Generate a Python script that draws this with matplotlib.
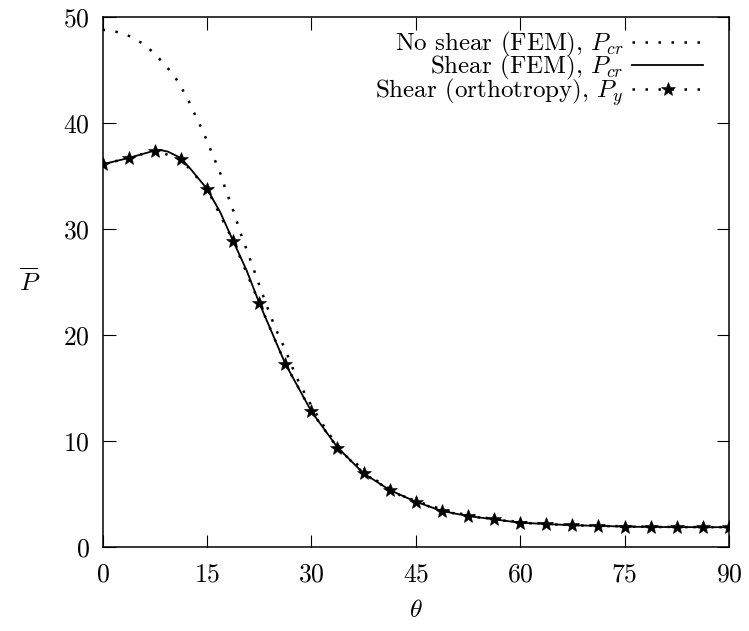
import matplotlib
matplotlib.use('Agg')
import matplotlib.pyplot as plt

plt.rcParams['font.family'] = ['cmr10', 'DejaVu Sans']
plt.rcParams['mathtext.fontset'] = 'cm'
plt.rcParams['axes.formatter.use_mathtext'] = True
plt.rcParams['axes.unicode_minus'] = False

# ── Data ────────────────────────────────────────────────────────────────────
theta_noshear = [0, 2.0, 3.85, 5.5, 7.07, 8.4, 9.6, 10.75, 11.7, 12.6, 13.4,
                 14.15, 14.9, 15.7, 16.9, 17.7, 18.8, 19.6, 20.1, 20.8, 21.5,
                 22.15, 22.8, 23.8, 24.8, 26.2, 27.8, 29.6, 31.4, 32.5, 33.7,
                 35.1, 36.4, 39.3, 42.7, 45, 50, 55, 60, 65, 70, 75, 80, 85, 90]
p_noshear = [48.8, 48.6, 48.2, 47.6, 46.8, 45.9, 45.0, 44.0, 42.9, 41.8, 40.6,
             39.6, 38.5, 37.2, 35.3, 33.7, 31.7, 30.1, 29.1, 27.9, 26.6,
             25.4, 24.2, 22.4, 20.7, 18.7, 16.1, 13.8, 11.8, 10.7, 9.7,
             8.5, 7.9, 6.3, 4.9, 4.35, 3.3, 2.75, 2.35, 2.15, 2.03, 1.95, 1.9, 1.88, 1.87]

theta_fem = [0, 3.75, 7.5, 8.3, 9.4, 11.25, 12.6, 15, 16.9, 18.75, 20.7, 22.5,
             26.25, 30, 33.75, 37.5, 41.25, 45, 48.75, 52.5, 56.25, 60, 63.75,
             67.5, 71.25, 75, 78.75, 82.5, 86.25, 90]
p_fem = [36.1, 36.7, 37.4, 37.45, 37.3, 36.7, 35.7, 33.8, 31.6, 28.9, 26.1, 23.05,
         17.3, 12.8, 9.4, 6.95, 5.38, 4.27, 3.4, 2.92, 2.61, 2.29, 2.17,
         2.05, 2.0, 1.92, 1.89, 1.88, 1.87, 1.87]

theta_orth = [0, 3.75, 7.5, 11.25, 15, 18.75, 22.5, 26.25, 30, 33.75, 37.5,
              41.25, 45, 48.75, 52.5, 56.25, 60, 63.75, 67.5, 71.25, 75, 78.75,
              82.5, 86.25, 90]
p_orth = [36.1, 36.7, 37.4, 36.6, 33.8, 28.9, 23.05, 17.3, 12.8, 9.37, 6.95,
          5.38, 4.27, 3.4, 2.92, 2.61, 2.29, 2.17, 2.05, 2.0, 1.92, 1.89,
          1.88, 1.87, 1.87]

x_ticks = [0, 15, 30, 45, 60, 75, 90]
y_ticks = [0, 10, 20, 30, 40, 50]

FS = 18.5
LEG_FS = 18
DOTS = (0, (1, 4.2))

fig = plt.figure(figsize=(7.49, 6.31), dpi=100)
ax = fig.add_axes([102.5 / 749, 1 - 547 / 631, 626.5 / 749, 530 / 631])

ax.plot(theta_noshear, p_noshear, color='black', linewidth=1.8, linestyle=DOTS,
        label=r'No shear (FEM), $P_{cr}$')
ax.plot(theta_fem, p_fem, color='black', linewidth=1.3, linestyle='-',
        label=r'Shear (FEM), $P_{cr}$')
ax.plot(theta_orth, p_orth, color='black', linewidth=1.8, linestyle=DOTS,
        marker='*', markersize=10.5, markeredgewidth=0.4,
        label=r'Shear (orthotropy), $P_y$')

ax.set_xlim(0, 90)
ax.set_ylim(0, 50)
ax.set_xticks(x_ticks)
ax.set_yticks(y_ticks)
ax.tick_params(direction='in', length=9, width=0.8, top=True, right=True,
               labelsize=FS, colors='black')
ax.tick_params(axis='x', pad=11)
ax.tick_params(axis='y', pad=9)
for s in ax.spines.values():
    s.set_linewidth(1.1)

ax.set_xlabel(r'$\theta$', fontsize=FS, labelpad=9)
ax.set_ylabel(r'$\overline{P}$', fontsize=FS, rotation=0, labelpad=24, va='center')

ax.legend(loc='upper right', bbox_to_anchor=(0.9585, 0.975), borderaxespad=0,
          borderpad=0, frameon=False, markerfirst=False, fontsize=LEG_FS,
          handlelength=2.83, handletextpad=0.35, labelspacing=-0.24)

fig.savefig('out.png', dpi=100)
